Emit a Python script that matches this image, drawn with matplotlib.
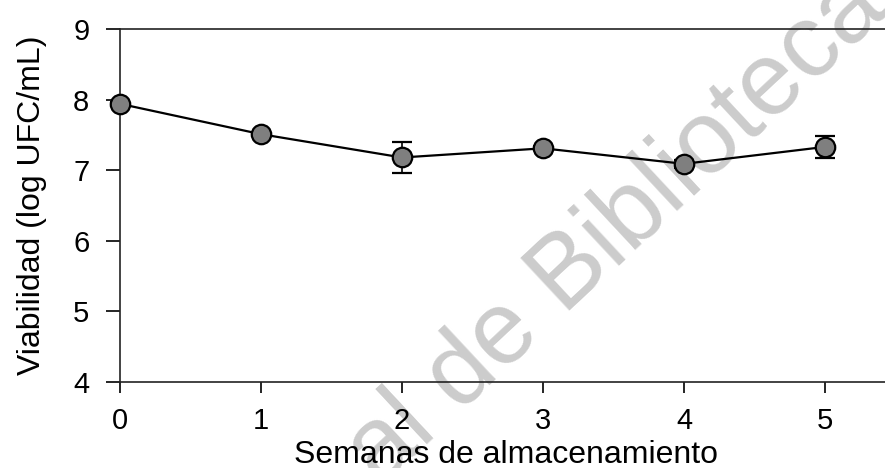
import numpy as np
import matplotlib.pyplot as plt

plt.rcParams['font.family'] = ['Liberation Sans', 'DejaVu Sans']

# Viabilidad durante el almacenamiento
semanas = [0, 1, 2, 3, 4, 5]
viabilidad = [7.94, 7.51, 7.18, 7.31, 7.09, 7.33]
desv = [0.03, 0.03, 0.22, 0.03, 0.06, 0.16]

fig = plt.figure(figsize=(8.85, 4.68), dpi=100)
ax = fig.add_axes([120 / 885, 1 - 382 / 468, 765 / 885, 353 / 468])

# marca de agua, por detrás de los ejes
fig.text(380 / 885, 1 - 487 / 468, 'al de Biblioteca', fontsize=74, color='#cccccc',
         rotation=43, rotation_mode='anchor', ha='left', va='baseline', zorder=-1)
ax.patch.set_alpha(0)

ax.errorbar(semanas, viabilidad, yerr=desv, color='black', lw=1.6,
            marker='o', ms=14, mfc='#7f7f7f', mec='black', mew=1.6,
            capsize=7, elinewidth=1.2, capthick=1.2, zorder=3, clip_on=False)

ax.set_xlim(0, 765 / 141)
ax.set_ylim(4, 9)
ax.set_xticks(semanas)
ax.set_yticks(range(4, 10))

for s in ['left', 'bottom', 'top']:
    ax.spines[s].set_color('#222222')
    ax.spines[s].set_linewidth(1.2)
ax.spines['right'].set_visible(False)

ax.tick_params(axis='y', direction='out', length=10, width=1.2, pad=12, labelsize=21)
ax.tick_params(axis='x', direction='out', length=8, width=1.2, pad=10, labelsize=21)

ax.set_xlabel('Semanas de almacenamiento', fontsize=23)
ax.set_ylabel('Viabilidad (log UFC/mL)', fontsize=23)
ax.xaxis.set_label_coords(0.505, -0.163)
ax.yaxis.set_label_coords(-0.095, 0.5)

fig.savefig('out.png', dpi=100)
